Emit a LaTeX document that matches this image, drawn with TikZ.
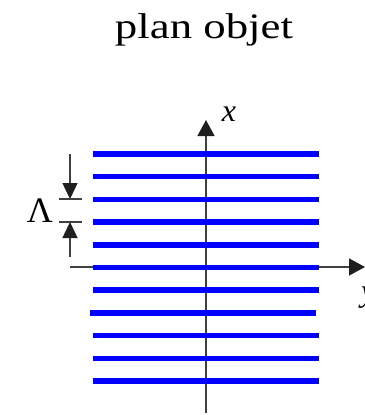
\documentclass[tikz,border=0pt]{standalone}
\usepackage{fontspec}
\setmainfont{Liberation Serif}
\usetikzlibrary{arrows.meta}
\begin{document}
\begin{tikzpicture}[x=1bp,y=-1bp,
  axis/.style={line width=1.4bp, draw=black!75},
  bigtip/.style={-{Triangle[width=17bp,length=16bp,color=black!88,fill=black!88]}},
  dimtip/.style={-{Triangle[width=15bp,length=16bp,color=black!88,fill=black!88]}},
  grating/.style={line width=5.5bp, draw=blue},
  tick/.style={line width=1.4bp, draw=black!75}]
\useasboundingbox (0,0) rectangle (365,415);
\node[anchor=base, font=\fontsize{36}{40}\selectfont, xscale=1.25] (title) at (204,38) {plan objet};
% grating lines
\foreach \i in {0,...,10} {
  \ifnum\i=7
    \coordinate (L\i) at (90,{154+22.7*\i});
    \coordinate (R\i) at (316,{154+22.7*\i});
  \else
    \coordinate (L\i) at (93,{154+22.7*\i});
    \coordinate (R\i) at (319,{154+22.7*\i});
  \fi
}
% axes
\coordinate (xb) at (206,413);
\coordinate (xt) at (206,120);
\coordinate (zl) at (70,267);
\coordinate (zr) at (365,267);
\draw[axis, bigtip] (xb) -- (xt);
\draw[axis, bigtip] (zl) -- (zr);
\foreach \i in {0,...,10} { \draw[grating] (L\i) -- (R\i); }
\node[font=\fontsize{32}{36}\selectfont\itshape, anchor=base] (xlab) at (229,121) {x};
\node[font=\fontsize{32}{36}\selectfont\itshape, anchor=base west, inner sep=0pt] (ylab) at (361,301) {y};
% dimension
\coordinate (d1) at (70,154);
\coordinate (d2) at (70,199);
\coordinate (d3) at (70,222);
\coordinate (d4) at (70,257);
\coordinate (t1l) at (59,199);
\coordinate (t1r) at (82,199);
\coordinate (t2l) at (59,222);
\coordinate (t2r) at (82,222);
\draw[axis, dimtip] (d1) -- (d2);
\draw[axis, dimtip] (d4) -- (d3);
\draw[tick] (t1l) -- (t1r);
\draw[tick] (t2l) -- (t2r);
\node[font=\fontsize{36}{40}\selectfont, anchor=base] (lam) at (40,222) {Λ};
\end{tikzpicture}
\end{document}
